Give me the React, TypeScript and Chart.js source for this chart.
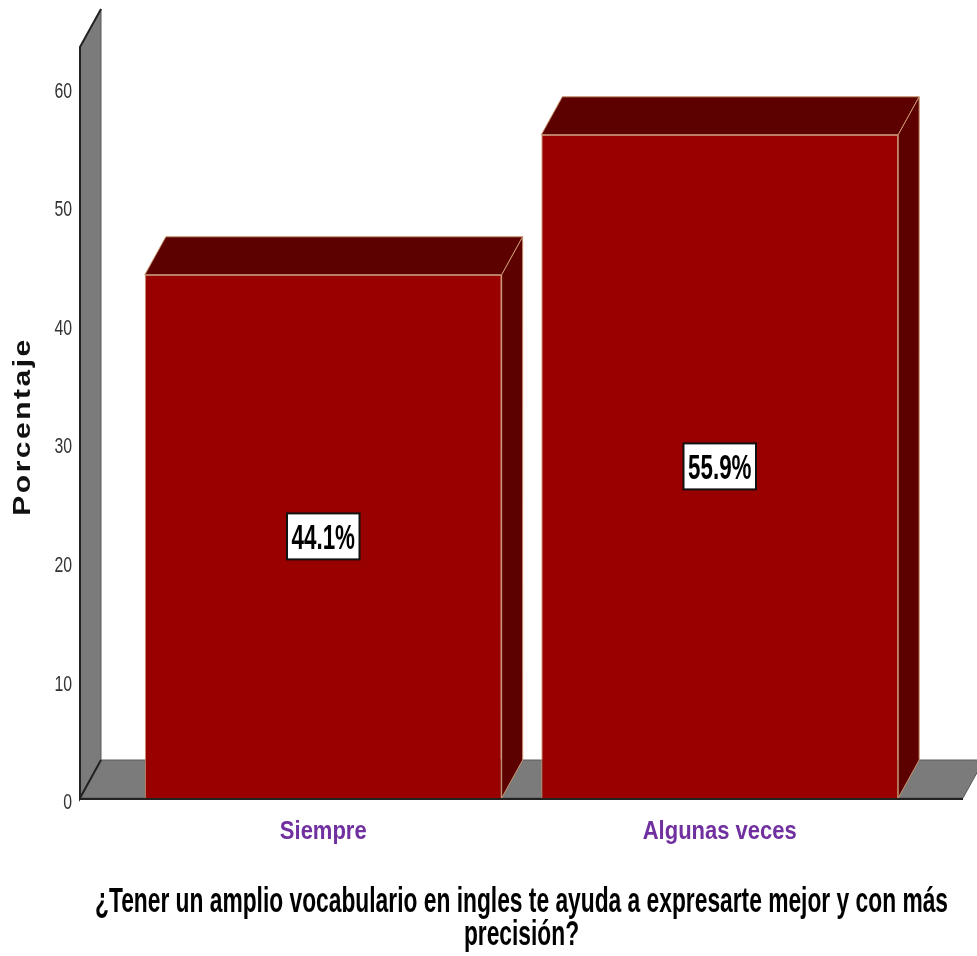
import React, { useEffect, useRef } from 'react';
import { Chart, registerables } from 'chart.js';

Chart.register(...registerables);

// ---- data ----
const categories = ['Siempre', 'Algunas veces'];
const percentages = [44.1, 55.9];
const yTickValues = [0, 10, 20, 30, 40, 50, 60];
const yAxisMax = 63.3;
const yAxisTitle = 'Porcentaje';
const xAxisTitleLines = [
  '¿Tener un amplio vocabulario en ingles te ayuda a expresarte mejor y con más',
  'precisión?',
];

// ---- style ----
const FONT = '"Liberation Sans", Arial, sans-serif';
const DX = 21;
const DY = 38;
const FRONT = '#990000';
const DARK = '#5c0000';
const EDGE = '#c8956e';
const GREY = '#7b7b7b';

type Pt = [number, number];

function poly(ctx: CanvasRenderingContext2D, pts: Pt[], fill: string, stroke?: string, lw = 1) {
  ctx.beginPath();
  ctx.moveTo(pts[0][0], pts[0][1]);
  for (let i = 1; i < pts.length; i++) ctx.lineTo(pts[i][0], pts[i][1]);
  ctx.closePath();
  ctx.fillStyle = fill;
  ctx.fill();
  if (stroke) {
    ctx.strokeStyle = stroke;
    ctx.lineWidth = lw;
    ctx.stroke();
  }
}

function txt(
  ctx: CanvasRenderingContext2D,
  s: string,
  x: number,
  y: number,
  o: { size: number; weight?: string; color: string; align: CanvasTextAlign; sx?: number; sy?: number; rotate?: number; spacing?: string; baseline?: CanvasTextBaseline }
) {
  ctx.save();
  ctx.font = `${o.weight || 'normal'} ${o.size}px ${FONT}`;
  ctx.fillStyle = o.color;
  ctx.textAlign = o.align;
  ctx.textBaseline = o.baseline || 'alphabetic';
  if (o.spacing) (ctx as any).letterSpacing = o.spacing;
  ctx.translate(x, y);
  if (o.rotate) ctx.rotate(o.rotate);
  ctx.scale(o.sx ?? 1, o.sy ?? 1);
  ctx.fillText(s, 0, 0);
  ctx.restore();
}

const threeD = {
  id: 'threeD',
  beforeDatasetsDraw(chart: any) {
    const { ctx, chartArea: ca } = chart;
    const wallX = ca.left - 45;
    const floorR = ca.right + 45;
    const base = ca.bottom;
    ctx.save();
    // wall
    poly(ctx, [[wallX, base], [wallX, ca.top], [wallX + DX, ca.top - DY], [wallX + DX, base - DY]], GREY, '#5a5a5a', 1);
    // floor
    poly(ctx, [[wallX, base], [floorR, base], [floorR + DX, base - DY], [wallX + DX, base - DY]], GREY, '#5a5a5a', 1);
    // dark edges
    ctx.strokeStyle = '#222';
    ctx.lineWidth = 2;
    ctx.beginPath();
    ctx.moveTo(wallX + DX, ca.top - DY);
    ctx.lineTo(wallX, ca.top);
    ctx.lineTo(wallX, base);
    ctx.lineTo(wallX + DX, base - DY);
    ctx.moveTo(wallX, base + 1);
    ctx.lineTo(floorR, base + 1);
    ctx.stroke();

    const meta = chart.getDatasetMeta(0);
    meta.data.forEach((bar: any) => {
      const { x, y, base: b, width } = bar.getProps(['x', 'y', 'base', 'width'], true);
      const x0 = x - width / 2;
      const x1 = x + width / 2;
      poly(ctx, [[x0, y], [x1, y], [x1 + DX, y - DY], [x0 + DX, y - DY]], DARK, EDGE, 1);
      poly(ctx, [[x1, y], [x1 + DX, y - DY], [x1 + DX, b - DY], [x1, b]], DARK, EDGE, 1);
    });
    ctx.restore();
  },
  afterDatasetsDraw(chart: any) {
    const { ctx } = chart;
    const meta = chart.getDatasetMeta(0);
    meta.data.forEach((bar: any, i: number) => {
      const { x, y, base: b } = bar.getProps(['x', 'y', 'base'], true);
      const cy = (y + b) / 2;
      const label = percentages[i].toFixed(1) + '%';
      const size = 35;
      const sx = 0.64;
      ctx.save();
      ctx.font = `bold ${size}px ${FONT}`;
      const w = ctx.measureText(label).width * sx;
      ctx.restore();
      const bw = w + 9;
      const bh = 46;
      ctx.save();
      ctx.fillStyle = '#fff';
      ctx.fillRect(x - bw / 2, cy - bh / 2, bw, bh);
      ctx.strokeStyle = '#111';
      ctx.lineWidth = 2;
      ctx.strokeRect(x - bw / 2, cy - bh / 2, bw, bh);
      ctx.restore();
      txt(ctx, label, x, cy + size * 0.716 / 2, { size, weight: 'bold', color: '#000', align: 'center', sx });
    });
  },
  afterDraw(chart: any) {
    const { ctx, chartArea: ca } = chart;
    const yScale = chart.scales.y;
    const xScale = chart.scales.x;
    // y tick labels
    yScale.ticks.forEach((t: any) => {
      const py = yScale.getPixelForValue(t.value);
      txt(ctx, String(t.value), ca.left - 53, py + 3.5 + 22 * 0.716 / 2, { size: 22, color: '#333', align: 'right', sx: 0.72 });
    });
    // x category labels
    categories.forEach((c, i) => {
      const px = xScale.getPixelForValue(i);
      txt(ctx, c, px, ca.bottom + 41, { size: 25, weight: 'bold', color: '#7030a0', align: 'center', sx: 0.88 });
    });
    // y axis title
    txt(ctx, yAxisTitle, 23, (ca.top + ca.bottom) / 2 + 4, {
      size: 30, weight: 'bold', color: '#111', align: 'center', baseline: 'middle', rotate: -Math.PI / 2, sx: 1, sy: 0.8, spacing: '2.5px',
    });
    // x axis title
    const cx = (ca.left + ca.right) / 2;
    ctx.save();
    ctx.font = `bold 35px ${FONT}`;
    const sx = 853 / ctx.measureText(xAxisTitleLines[0]).width;
    ctx.restore();
    txt(ctx, xAxisTitleLines[0], cx, ca.bottom + 114, { size: 35, weight: 'bold', color: '#000', align: 'center', sx });
    txt(ctx, xAxisTitleLines[1], cx, ca.bottom + 147, { size: 35, weight: 'bold', color: '#000', align: 'center', sx });
  },
};

export default function App() {
  const ref = useRef<HTMLCanvasElement | null>(null);
  useEffect(() => {
    if (!ref.current) return;
    const chart = new Chart(ref.current, {
      type: 'bar',
      data: {
        labels: categories,
        datasets: [
          {
            data: percentages,
            backgroundColor: FRONT,
            borderColor: EDGE,
            borderWidth: 1,
            barPercentage: 0.9,
            categoryPercentage: 1.0,
          },
        ],
      },
      options: {
        responsive: false,
        animation: false,
        layout: { padding: { left: 125, right: 59, top: 47, bottom: 158 } },
        plugins: { legend: { display: false }, tooltip: { enabled: false } },
        scales: {
          x: { display: false, offset: true },
          y: {
            display: false,
            min: 0,
            max: yAxisMax,
            afterBuildTicks: (s: any) => {
              s.ticks = yTickValues.map((v) => ({ value: v }));
            },
          },
        },
      },
      plugins: [threeD],
    });
    return () => chart.destroy();
  }, []);
  return (
    <div style={{ position: 'fixed', left: 0, top: 0, width: 977, height: 956, background: '#fff' }}>
      <canvas ref={ref} width={977} height={956} />
    </div>
  );
}
